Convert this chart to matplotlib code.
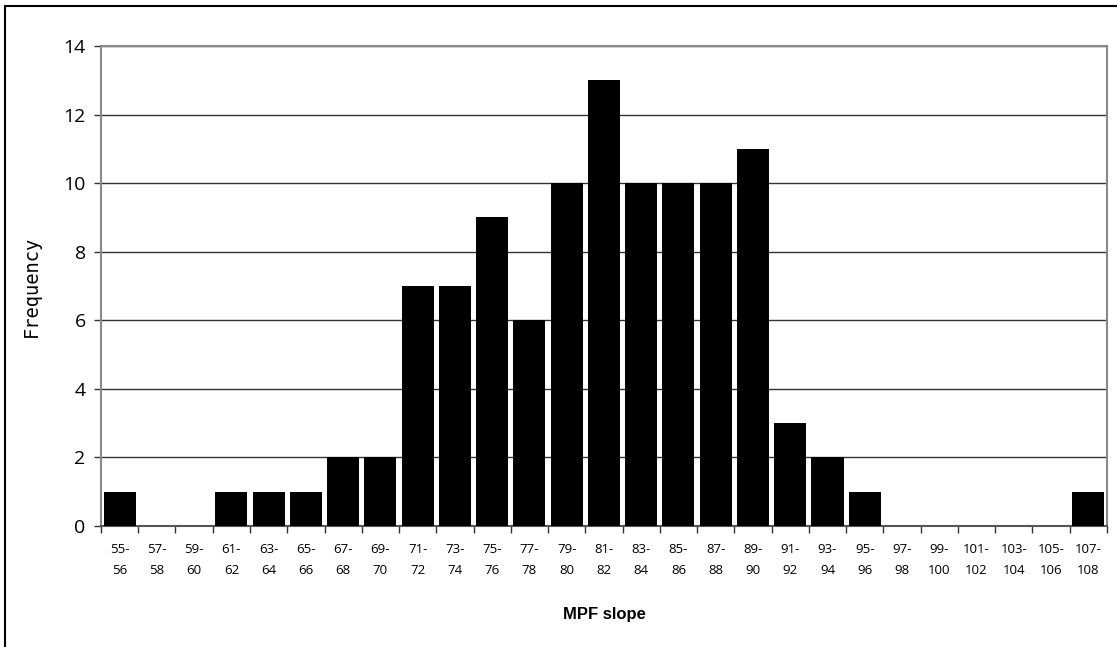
import matplotlib
matplotlib.use("Agg")
import matplotlib.pyplot as plt
from matplotlib.patches import Rectangle

# histogram of MPF slope, bins of width 2
bin_labels = ["55-\n56", "57-\n58", "59-\n60", "61-\n62", "63-\n64", "65-\n66", "67-\n68",
              "69-\n70", "71-\n72", "73-\n74", "75-\n76", "77-\n78", "79-\n80", "81-\n82",
              "83-\n84", "85-\n86", "87-\n88", "89-\n90", "91-\n92", "93-\n94", "95-\n96",
              "97-\n98", "99-\n100", "101-\n102", "103-\n104", "105-\n106", "107-\n108"]
frequency = [1, 0, 0, 1, 1, 1, 2, 2, 7, 7, 9, 6, 10, 13, 10, 10, 10, 11, 3, 2, 1, 0, 0, 0, 0, 0, 1]
y_ticks = [0, 2, 4, 6, 8, 10, 12, 14]

fig = plt.figure(figsize=(11.17, 6.47), dpi=100)
ax = fig.add_axes([0.0904, 0.187, 0.9006, 0.742])

x = list(range(len(frequency)))
ax.bar(x, frequency, width=0.86, color="black", zorder=3)

ax.set_xlim(-0.5, len(frequency) - 0.5)
ax.set_ylim(0, 14)
ax.set_yticks(y_ticks)
ax.set_yticklabels([str(t) for t in y_ticks], fontsize=14, family="Open Sans")
ax.yaxis.grid(True, color="#333333", linewidth=1.0, zorder=1)

# category labels centred, tick marks on the bin boundaries
ax.set_xticks(x)
ax.set_xticklabels(bin_labels, fontsize=9.5, family="Open Sans", linespacing=1.8)
ax.tick_params(axis="x", which="major", length=0, pad=12)
ax.set_xticks([i - 0.5 for i in range(len(frequency) + 1)], minor=True)
ax.tick_params(axis="x", which="minor", length=5, width=1, color="#333333")
ax.tick_params(axis="y", length=5, width=1, color="#333333", pad=6)

for side in ["top", "right", "left"]:
    ax.spines[side].set_color("#888888")
    ax.spines[side].set_linewidth(1.5)
ax.spines["bottom"].set_color("#555555")
ax.spines["bottom"].set_linewidth(1.5)

ax.set_xlabel("MPF slope", fontsize=12, fontweight="bold", family="Liberation Sans", labelpad=22)
ax.set_ylabel("Frequency", fontsize=13.5, family="DejaVu Sans Mono", labelpad=16)

# outer chart border, Excel style
fig.patches.append(Rectangle((0.0045, -0.01), 1.2, 1.0007, transform=fig.transFigure,
                             fill=False, edgecolor="black", linewidth=1.5))

fig.savefig("out.png", dpi=100)
